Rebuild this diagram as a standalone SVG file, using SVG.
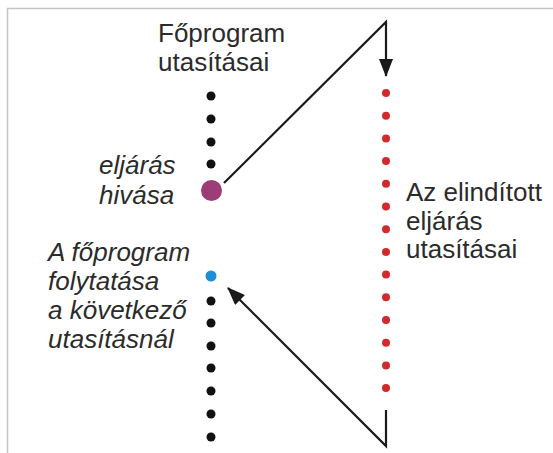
<svg xmlns="http://www.w3.org/2000/svg" width="553" height="453" viewBox="0 0 553 453">
<defs>
<style>
.t{font-family:"Liberation Sans",Arial,sans-serif;font-size:26px;fill:#2b2b2b}
.i{font-style:italic}
.bk{fill:#111}
.rd{fill:#d02a2f}
.ln{fill:none;stroke:#1a1a1a;stroke-width:2.2;stroke-linejoin:miter}
</style>
<marker id="ah" markerUnits="userSpaceOnUse" markerWidth="18" markerHeight="14" viewBox="0 0 18 14" refX="17" refY="7" orient="auto">
<path d="M0,0 L18,7 L0,14 Z" fill="#1a1a1a"/>
</marker>
</defs>
<rect x="0" y="0" width="553" height="453" fill="#ffffff"/>
<path d="M7.5,453 V8.5 H553" fill="none" stroke="#c4c4c4" stroke-width="1.5"/>

<g id="title-main">
<text class="t" x="158" y="42">Főprogram</text>
<text class="t" x="158" y="71">utasításai</text>
</g>

<g id="main-program">
<circle class="bk" cx="211" cy="96" r="4.5"/>
<circle class="bk" cx="211" cy="119" r="4.5"/>
<circle class="bk" cx="211" cy="142" r="4.5"/>
<circle class="bk" cx="211" cy="164" r="4.5"/>
<circle class="bk" cx="211" cy="301" r="4.5"/>
<circle class="bk" cx="211" cy="323" r="4.5"/>
<circle class="bk" cx="211" cy="346" r="4.5"/>
<circle class="bk" cx="211" cy="368" r="4.5"/>
<circle class="bk" cx="211" cy="391" r="4.5"/>
<circle class="bk" cx="211" cy="414" r="4.5"/>
<circle class="bk" cx="211" cy="437" r="4.5"/>
</g>

<g id="call">
<circle cx="211.5" cy="190.5" r="10.5" fill="#9c3d78"/>
<text class="t i" x="99" y="174">eljárás</text>
<text class="t i" x="99" y="204">hivása</text>
</g>

<g id="continue">
<circle cx="211" cy="276" r="5.5" fill="#1c8fd6"/>
<text class="t i" x="48" y="261">A főprogram</text>
<text class="t i" x="48" y="290">folytatása</text>
<text class="t i" x="48" y="319">a következő</text>
<text class="t i" x="48" y="348">utasításnál</text>
</g>

<g id="procedure">
<circle class="rd" cx="386" cy="93" r="4"/>
<circle class="rd" cx="386" cy="115.7" r="4"/>
<circle class="rd" cx="386" cy="138.4" r="4"/>
<circle class="rd" cx="386" cy="161.1" r="4"/>
<circle class="rd" cx="386" cy="183.8" r="4"/>
<circle class="rd" cx="386" cy="206.5" r="4"/>
<circle class="rd" cx="386" cy="229.2" r="4"/>
<circle class="rd" cx="386" cy="251.9" r="4"/>
<circle class="rd" cx="386" cy="274.6" r="4"/>
<circle class="rd" cx="386" cy="297.3" r="4"/>
<circle class="rd" cx="386" cy="320" r="4"/>
<circle class="rd" cx="386" cy="342.7" r="4"/>
<circle class="rd" cx="386" cy="365.4" r="4"/>
<circle class="rd" cx="386" cy="388" r="4"/>
<text class="t" x="406" y="201">Az elindított</text>
<text class="t" x="406" y="230">eljárás</text>
<text class="t" x="406" y="258">utasításai</text>
</g>

<g id="connectors">
<polyline class="ln" points="224,183 386,22 386,76" marker-end="url(#ah)"/>
<polyline class="ln" points="386,410 386,446 228,288" marker-end="url(#ah)"/>
</g>
</svg>
